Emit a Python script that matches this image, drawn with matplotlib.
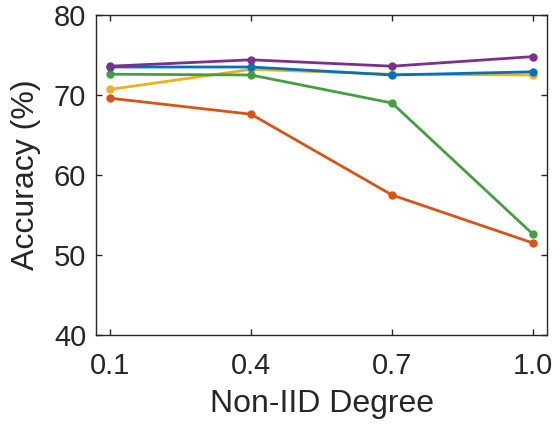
import matplotlib.pyplot as plt

plt.rcParams['font.family'] = ['Liberation Sans', 'DejaVu Sans']

degrees = [0.1, 0.4, 0.7, 1.0]
acc_orange = [69.6, 67.6, 57.5, 51.5]
acc_yellow = [70.7, 73.2, 72.6, 72.5]
acc_green = [72.6, 72.5, 69.0, 52.6]
acc_blue = [73.5, 73.5, 72.5, 72.9]
acc_purple = [73.6, 74.4, 73.6, 74.8]

series = [
    (acc_orange, '#D95319'),
    (acc_yellow, '#EDB120'),
    (acc_green, '#469E43'),
    (acc_blue, '#0072BD'),
    (acc_purple, '#7E2F8E'),
]

fig = plt.figure(figsize=(5.57, 4.26), dpi=100)
ax = fig.add_axes([96 / 557, 1 - 335 / 426, 451 / 557, 320 / 426])

for vals, color in series:
    ax.plot(degrees, vals, color=color, linewidth=2.0, marker='o', markersize=5)

ax.set_xlim(0.07, 1.03)
ax.set_ylim(40, 80)
ax.set_xticks(degrees)
ax.set_xticklabels(['0.1', '0.4', '0.7', '1.0'])
ax.set_yticks([40, 50, 60, 70, 80])

for side in ax.spines.values():
    side.set_color('#262626')
    side.set_linewidth(1.0)
ax.tick_params(direction='in', top=True, right=True, length=4, width=1.0,
               colors='#262626', labelsize=21, pad=7)
ax.tick_params(axis='x', pad=12)
ax.set_xlabel('Non-IID Degree', fontsize=23, color='#262626', labelpad=7)
ax.set_ylabel('Accuracy (%)', fontsize=23, color='#262626', labelpad=9)

plt.savefig('out.png', dpi=100)
